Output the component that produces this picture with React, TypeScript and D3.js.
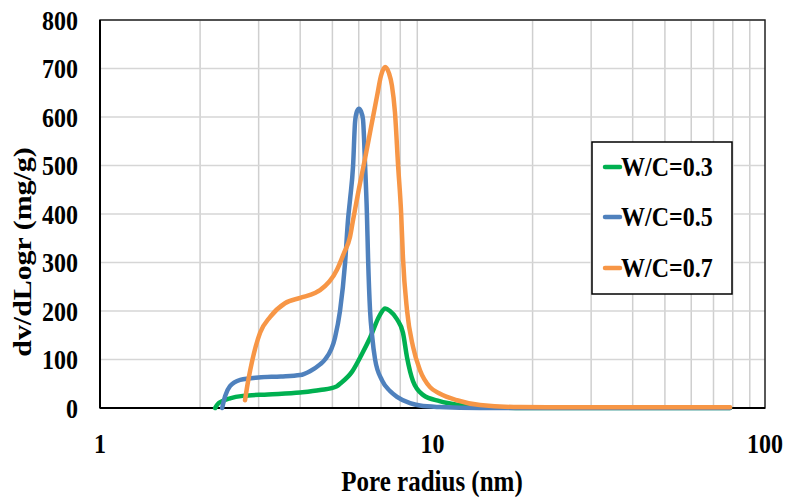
import React from "react";
import * as d3 from "d3";

const W = 786;
const H = 502;

const seriesNames = ["W/C=0.3", "W/C=0.5", "W/C=0.7"];
const seriesColors = ["#00B050", "#4F81BD", "#F79646"];

const greenR = [2.22, 2.26, 2.33, 2.46, 2.69, 3.2, 4.0, 4.59, 5.16, 5.27, 5.73, 6.14, 6.49, 6.95, 7.2, 7.45, 7.82, 8.15, 8.38, 8.74, 9.36, 10.5, 12.1, 13.9, 16, 20, 78.5];
const greenV = [0, 8, 14, 20, 25, 28, 32, 37, 45, 50, 75, 112, 145, 192, 205, 200, 183, 155, 105, 55, 27, 14, 6, 2, 1, 0, 0];

const blueR = [2.33, 2.38, 2.46, 2.64, 3.0, 3.5, 4.0, 4.28, 4.59, 4.75, 5.09, 5.27, 5.46, 5.57, 5.65, 5.77, 5.85, 5.93, 6.01, 6.09, 6.18, 6.27, 6.35, 6.4, 6.49, 6.58, 6.72, 7.05, 7.45, 7.82, 8.56, 9.17, 10.5, 13.9, 78.5];
const blueV = [0, 25, 45, 58, 63, 65, 68, 76, 90, 100, 145, 200, 300, 388, 430, 500, 590, 612, 617, 612, 595, 500, 400, 310, 200, 150, 100, 57, 35, 23, 10, 5, 2, 0, 0];

const orangeR = [2.73, 2.78, 2.83, 3.03, 3.25, 3.6, 4.0, 4.43, 4.59, 5.16, 5.42, 5.65, 5.77, 6.0, 6.27, 6.53, 6.81, 7.0, 7.2, 7.4, 7.55, 7.71, 7.88, 8.05, 8.15, 8.38, 8.74, 9.17, 9.83, 10.5, 11.85, 13.9, 18.3, 31.9, 78.5];
const orangeV = [16, 50, 78, 155, 188, 216, 227, 237, 243, 285, 320, 353, 388, 450, 515, 578, 643, 685, 703, 690, 665, 610, 500, 400, 310, 202, 126, 78, 43, 30, 16, 6, 2, 1.5, 1.5];

const yTicks = [0, 100, 200, 300, 400, 500, 600, 700, 800];
const xTickLabels = [1, 10, 100];
const xLabel = "Pore radius (nm)";
const yLabel = "dv/dLogr (mg/g)";

const FONT = "'Liberation Serif', 'Times New Roman', serif";
const SY = 1.15;

export default function App() {
  const left = 100, right = 765, top = 20, bottom = 408;
  const x = d3.scaleLog().domain([1, 100]).range([left, right]);
  const y = d3.scaleLinear().domain([0, 800]).range([bottom, top]);

  const minor: number[] = [];
  for (const dec of [1, 10]) for (let k = 2; k <= 9; k++) minor.push(dec * k);

  const series = [
    { r: greenR, v: greenV },
    { r: blueR, v: blueV },
    { r: orangeR, v: orangeV },
  ];
  const line = d3
    .line<[number, number]>()
    .x((d) => x(d[0]))
    .y((d) => y(d[1]))
    .curve(d3.curveMonotoneX);

  const legendRowsY = [167, 217, 268];

  return (
    <svg
      width={W}
      height={H}
      style={{ position: "absolute", left: 0, top: 0, display: "block", background: "#fff" }}
    >
      <rect x={0} y={0} width={W} height={H} fill="#fff" />
      {minor.map((m) => (
        <line key={"gx" + m} x1={x(m)} x2={x(m)} y1={top} y2={bottom} stroke="#cfcfcf" strokeWidth={1.5} />
      ))}
      {yTicks.map((t) => (
        <line key={"gy" + t} x1={left} x2={right} y1={y(t)} y2={y(t)} stroke="#d6d6d6" strokeWidth={1.5} />
      ))}
      <rect x={left} y={top} width={right - left} height={bottom - top} fill="none" stroke="#222" strokeWidth={1.5} />
      <line x1={left} x2={right} y1={bottom} y2={bottom} stroke="#000" strokeWidth={2} />
      <line x1={left} x2={left} y1={top} y2={bottom} stroke="#000" strokeWidth={2} />

      {series.map((s, i) => (
        <path
          key={"s" + i}
          d={line(s.r.map((r, j) => [r, s.v[j]] as [number, number])) || ""}
          fill="none"
          stroke={seriesColors[i]}
          strokeWidth={4.5}
          strokeLinejoin="round"
          strokeLinecap="round"
        />
      ))}

      {yTicks.map((t) => (
        <text
          key={"yt" + t}
          transform={`translate(78,${y(t) + 9.5}) scale(1,${SY})`}
          textAnchor="end"
          fontFamily={FONT}
          fontWeight="bold"
          fontSize={24}
          fill="#000"
        >
          {t}
        </text>
      ))}
      {xTickLabels.map((t) => (
        <text
          key={"xt" + t}
          transform={`translate(${x(t)},${453}) scale(1,${SY})`}
          textAnchor="middle"
          fontFamily={FONT}
          fontWeight="bold"
          fontSize={24}
          fill="#000"
        >
          {t}
        </text>
      ))}
      <text
        transform={`translate(432,${491}) scale(1,${SY})`}
        textAnchor="middle"
        fontFamily={FONT}
        fontWeight="bold"
        fontSize={25}
        fill="#000"
      >
        {xLabel}
      </text>
      <text
        transform={`translate(31,252) scale(1,${SY}) rotate(-90)`}
        textAnchor="middle"
        fontFamily={FONT}
        fontWeight="bold"
        fontSize={26}
        fill="#000"
      >
        {yLabel}
      </text>

      <rect x={592} y={142} width={140} height={152} fill="#fff" stroke="#000" strokeWidth={1.5} />
      {seriesNames.map((n, i) => (
        <g key={"lg" + i}>
          <line
            x1={605}
            x2={620}
            y1={legendRowsY[i]}
            y2={legendRowsY[i]}
            stroke={seriesColors[i]}
            strokeWidth={4.5}
            strokeLinecap="round"
          />
          <text
            transform={`translate(621,${legendRowsY[i] + 9}) scale(1,${SY})`}
            fontFamily={FONT}
            fontWeight="bold"
            fontSize={24}
            fill="#000"
          >
            {n}
          </text>
        </g>
      ))}
    </svg>
  );
}
